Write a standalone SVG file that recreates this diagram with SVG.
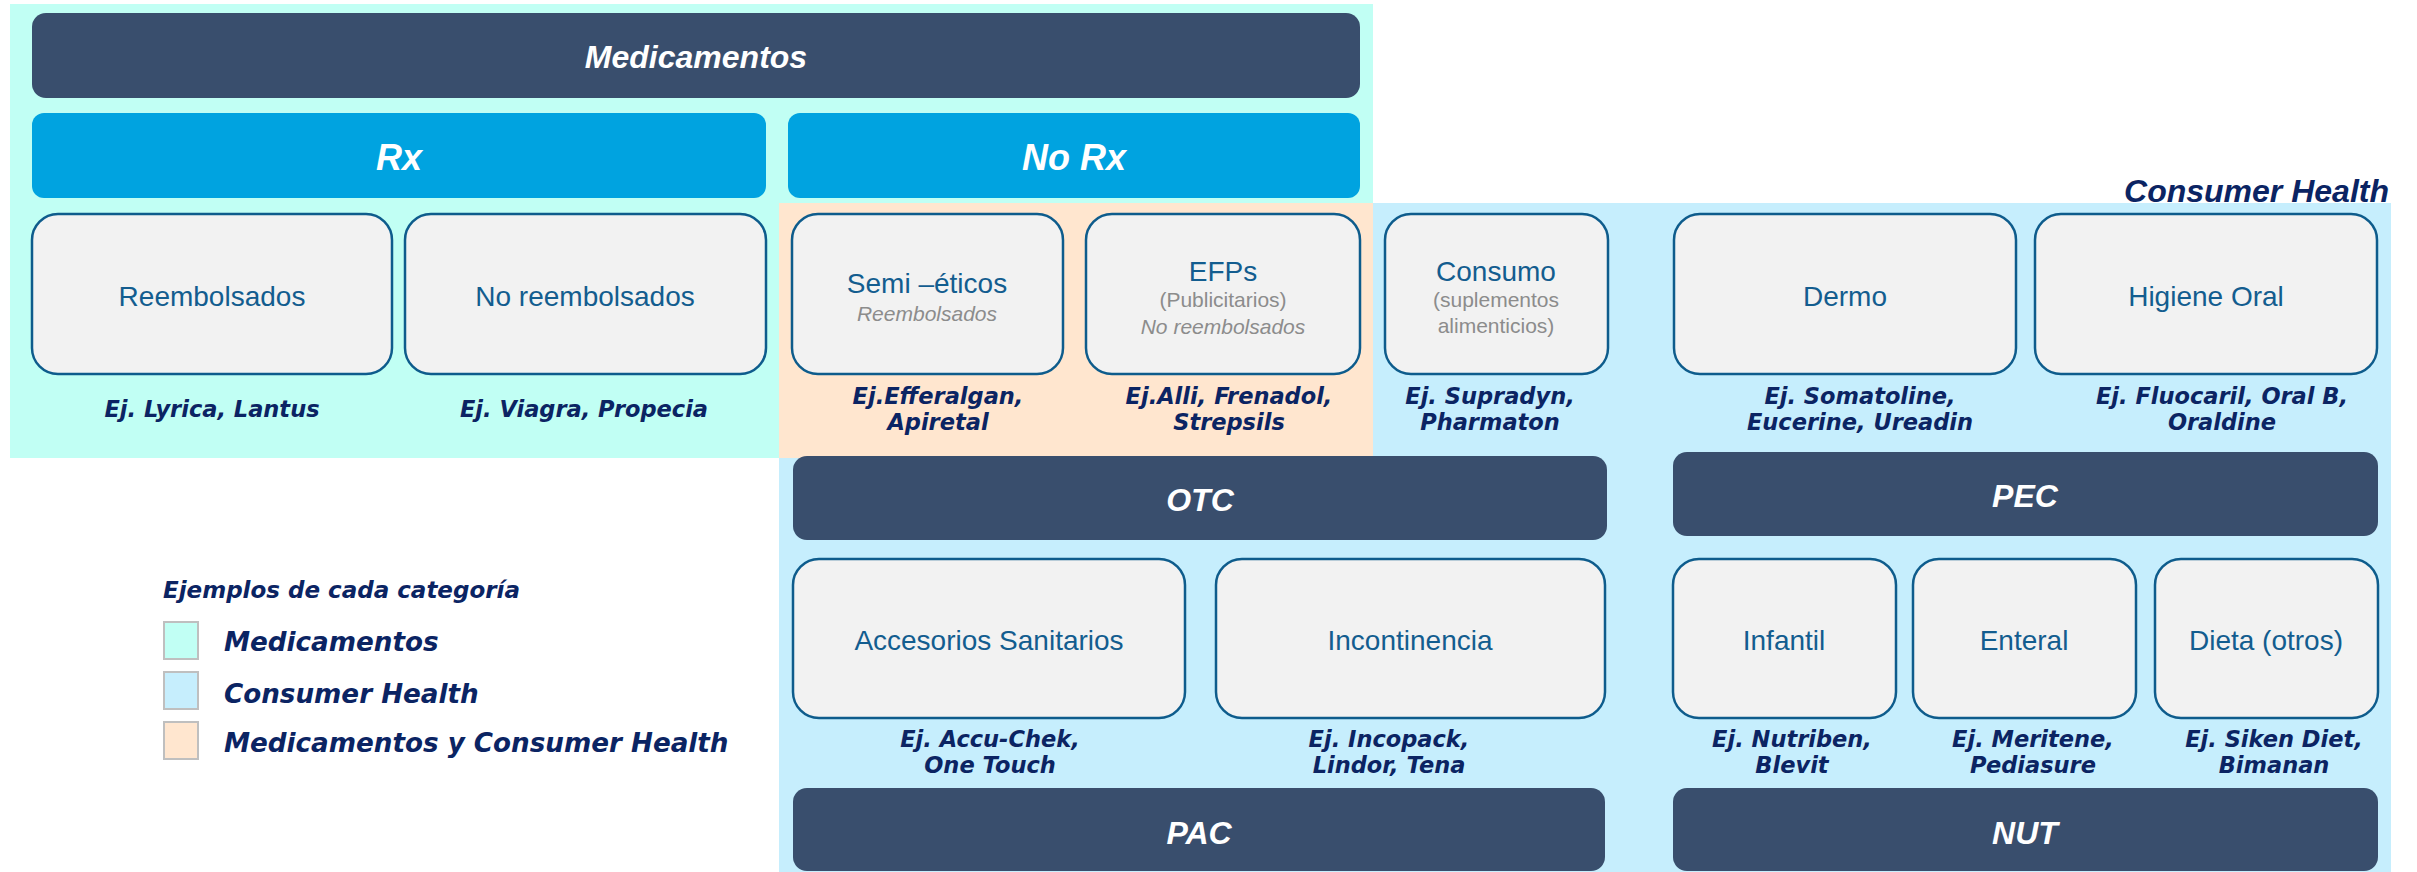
<svg xmlns="http://www.w3.org/2000/svg" width="2417" height="872" viewBox="0 0 2417 872">
<style>
.bar{fill:#394E6D}
.rx{fill:#00A3E0}
.box{fill:#F2F2F2;stroke:#0E5C8C;stroke-width:2.5}
.hd{font-family:"Liberation Sans",Arial,sans-serif;font-weight:bold;font-style:italic;fill:#FFFFFF;text-anchor:middle}
.lb{font-family:"Liberation Sans",Arial,sans-serif;font-size:28px;fill:#135D8F;text-anchor:middle}
.sub{font-family:"Liberation Sans",Arial,sans-serif;font-size:21px;fill:#8C8C8C;text-anchor:middle}
.ej{font-family:"DejaVu Sans",Verdana,sans-serif;font-size:22.5px;font-weight:bold;font-style:italic;fill:#0B2463;text-anchor:middle}
.lg{font-family:"DejaVu Sans",Verdana,sans-serif;font-weight:bold;font-style:italic;fill:#0B2463}
.sq{stroke:#BFBFBF;stroke-width:2}
</style>
<rect width="2417" height="872" fill="#FFFFFF"/>
<g id="backgrounds">
<rect x="779" y="203" width="1612" height="669" fill="#C6EEFD"/>
<rect x="10" y="4" width="1363" height="454" fill="#C1FFF4"/>
<rect x="779" y="203" width="594" height="255" fill="#FFE6CF"/>
</g>
<g id="consumer-health-title">
<text x="2389" y="202" font-family="'Liberation Sans',Arial,sans-serif" font-size="32" font-weight="bold" font-style="italic" fill="#0B2463" text-anchor="end">Consumer Health</text>
</g>
<g id="medicamentos">
<rect class="bar" x="32" y="13" width="1328" height="85" rx="14"/>
<text class="hd" x="696" y="68" font-size="32">Medicamentos</text>
</g>
<g id="rx">
<rect class="rx" x="32" y="113" width="734" height="85" rx="12"/>
<text class="hd" x="399" y="170" font-size="36">Rx</text>
</g>
<g id="no-rx">
<rect class="rx" x="788" y="113" width="572" height="85" rx="12"/>
<text class="hd" x="1074" y="170" font-size="36">No Rx</text>
</g>
<g id="reembolsados">
<rect class="box" x="32" y="214" width="360" height="160" rx="26"/>
<text class="lb" x="212" y="306">Reembolsados</text>
<text class="ej" x="212" y="417">Ej. Lyrica, Lantus</text>
</g>
<g id="no-reembolsados">
<rect class="box" x="405" y="214" width="361" height="160" rx="26"/>
<text class="lb" x="585" y="306">No reembolsados</text>
<text class="ej" x="584" y="417">Ej. Viagra, Propecia</text>
</g>
<g id="semi-eticos">
<rect class="box" x="792" y="214" width="271" height="160" rx="26"/>
<text class="lb" x="927" y="293">Semi –éticos</text>
<text class="sub" x="927" y="321" font-style="italic">Reembolsados</text>
<text class="ej" x="938" y="404">Ej.Efferalgan,</text>
<text class="ej" x="938" y="430">Apiretal</text>
</g>
<g id="efps">
<rect class="box" x="1086" y="214" width="274" height="160" rx="26"/>
<text class="lb" x="1223" y="281">EFPs</text>
<text class="sub" x="1223" y="307">(Publicitarios)</text>
<text class="sub" x="1223" y="334" font-style="italic">No reembolsados</text>
<text class="ej" x="1229" y="404">Ej.Alli, Frenadol,</text>
<text class="ej" x="1229" y="430">Strepsils</text>
</g>
<g id="consumo">
<rect class="box" x="1385" y="214" width="223" height="160" rx="26"/>
<text class="lb" x="1496" y="281">Consumo</text>
<text class="sub" x="1496" y="307">(suplementos</text>
<text class="sub" x="1496" y="333">alimenticios)</text>
<text class="ej" x="1490" y="404">Ej. Supradyn,</text>
<text class="ej" x="1490" y="430">Pharmaton</text>
</g>
<g id="dermo">
<rect class="box" x="1674" y="214" width="342" height="160" rx="26"/>
<text class="lb" x="1845" y="306">Dermo</text>
<text class="ej" x="1860" y="404">Ej. Somatoline,</text>
<text class="ej" x="1860" y="430">Eucerine, Ureadin</text>
</g>
<g id="higiene-oral">
<rect class="box" x="2035" y="214" width="342" height="160" rx="26"/>
<text class="lb" x="2206" y="306">Higiene Oral</text>
<text class="ej" x="2222" y="404">Ej. Fluocaril, Oral B,</text>
<text class="ej" x="2222" y="430">Oraldine</text>
</g>
<g id="otc">
<rect class="bar" x="793" y="456" width="814" height="84" rx="14"/>
<text class="hd" x="1200" y="511" font-size="32">OTC</text>
</g>
<g id="pec">
<rect class="bar" x="1673" y="452" width="705" height="84" rx="14"/>
<text class="hd" x="2025" y="507" font-size="32">PEC</text>
</g>
<g id="accesorios-sanitarios">
<rect class="box" x="793" y="559" width="392" height="159" rx="26"/>
<text class="lb" x="989" y="650">Accesorios Sanitarios</text>
<text class="ej" x="990" y="747">Ej. Accu-Chek,</text>
<text class="ej" x="990" y="773">One Touch</text>
</g>
<g id="incontinencia">
<rect class="box" x="1216" y="559" width="389" height="159" rx="26"/>
<text class="lb" x="1410" y="650">Incontinencia</text>
<text class="ej" x="1389" y="747">Ej. Incopack,</text>
<text class="ej" x="1389" y="773">Lindor, Tena</text>
</g>
<g id="infantil">
<rect class="box" x="1673" y="559" width="223" height="159" rx="26"/>
<text class="lb" x="1784" y="650">Infantil</text>
<text class="ej" x="1792" y="747">Ej. Nutriben,</text>
<text class="ej" x="1792" y="773">Blevit</text>
</g>
<g id="enteral">
<rect class="box" x="1913" y="559" width="223" height="159" rx="26"/>
<text class="lb" x="2024" y="650">Enteral</text>
<text class="ej" x="2033" y="747">Ej. Meritene,</text>
<text class="ej" x="2033" y="773">Pediasure</text>
</g>
<g id="dieta">
<rect class="box" x="2155" y="559" width="223" height="159" rx="26"/>
<text class="lb" x="2266" y="650">Dieta (otros)</text>
<text class="ej" x="2274" y="747">Ej. Siken Diet,</text>
<text class="ej" x="2274" y="773">Bimanan</text>
</g>
<g id="pac">
<rect class="bar" x="793" y="788" width="812" height="83" rx="14"/>
<text class="hd" x="1199" y="844" font-size="32">PAC</text>
</g>
<g id="nut">
<rect class="bar" x="1673" y="788" width="705" height="83" rx="14"/>
<text class="hd" x="2025" y="844" font-size="32">NUT</text>
</g>
<g id="legend">
<text class="lg" x="163" y="598" font-size="23">Ejemplos de cada categoría</text>
<rect class="sq" x="164" y="622" width="34" height="37" fill="#C1FFF4"/>
<rect class="sq" x="164" y="672" width="34" height="37" fill="#C6EEFD"/>
<rect class="sq" x="164" y="722" width="34" height="37" fill="#FFE6CF"/>
<text class="lg" x="224" y="651" font-size="26.2">Medicamentos</text>
<text class="lg" x="224" y="703" font-size="26.2">Consumer Health</text>
<text class="lg" x="224" y="752" font-size="26.2">Medicamentos y Consumer Health</text>
</g>
<g id="connectors"/>
</svg>
